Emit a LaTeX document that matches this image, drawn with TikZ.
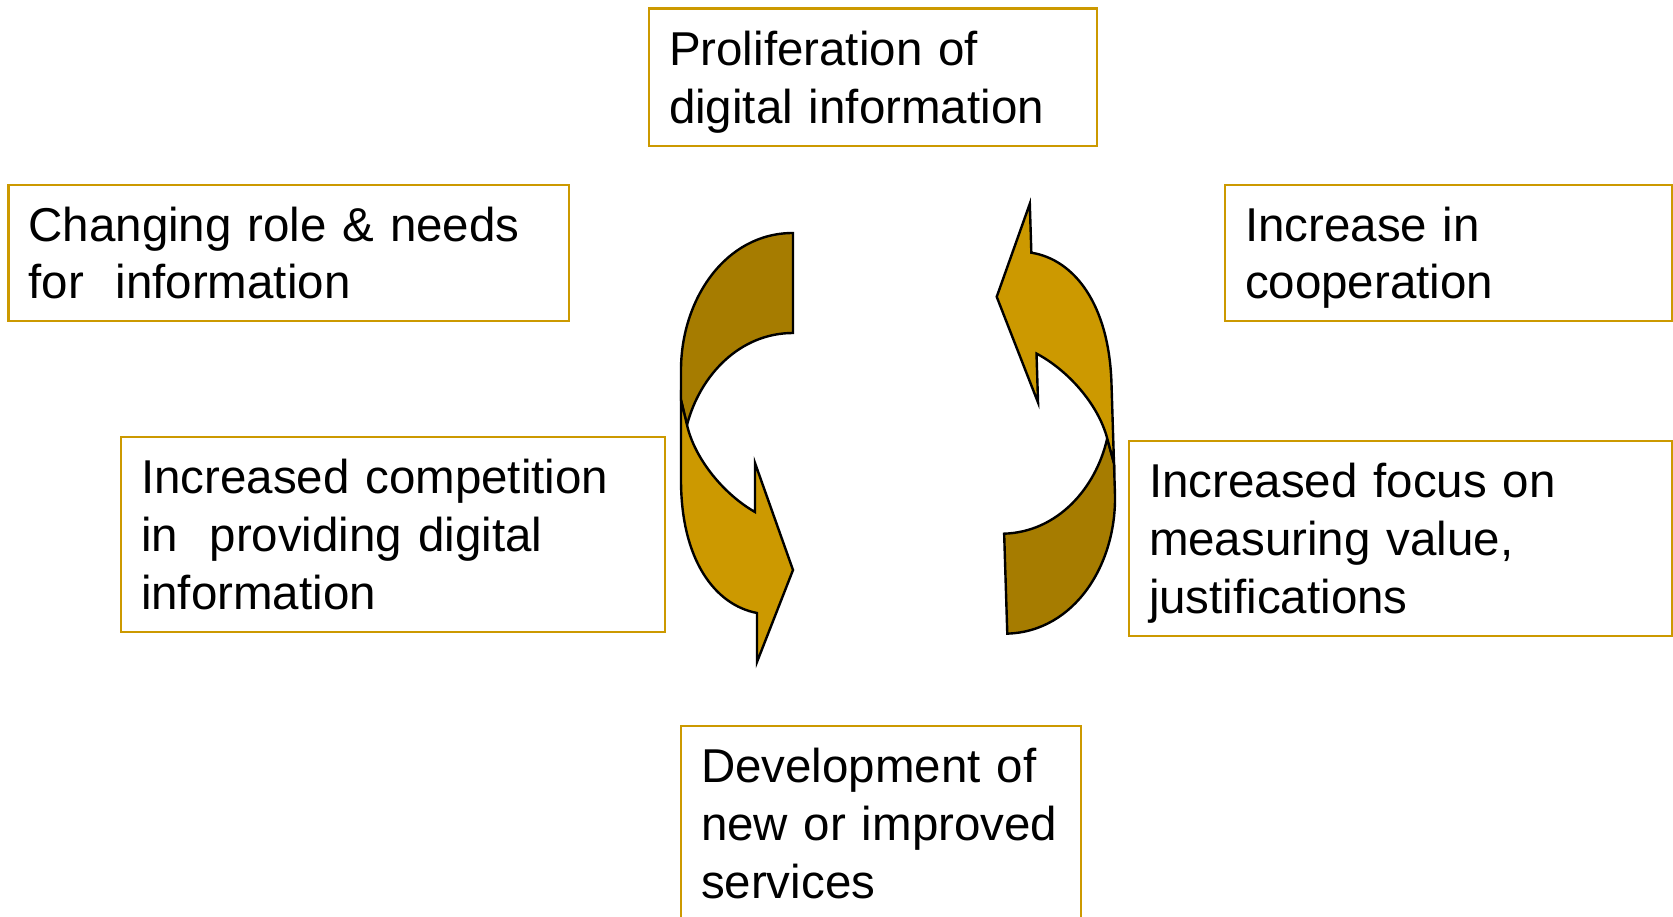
\documentclass[tikz,border=0pt]{standalone}
\usepackage{fontspec}
\setmainfont{Liberation Sans}
\usepackage{tikz}
\definecolor{lightgold}{RGB}{204,153,0}
\definecolor{darkgold}{RGB}{166,124,0}
\newcommand{\boxstrut}{\rule[-0.234em]{0pt}{1.184em}}
\tikzstyle{infobox} = [draw=lightgold, line width=2.5pt, inner xsep=20pt, inner ysep=4pt, align=left, font=\fontsize{47.5}{57.6}\selectfont]
\tikzstyle{arrowpart} = [draw=black, line width=2.4pt]

% one half of the cycle, the right half is this one turned round
\newcommand{\halfcycle}{%
	% back of the ribbon
	\draw[arrowpart, fill=darkgold] 
	(793,233) .. controls (725,233) and (681,300) .. (681,370) 
	-- (681,400) -- (687,425) 
	.. controls (700,375) and (740,333) .. (793,333) -- cycle;
	% front with the head
	\draw[arrowpart, fill=lightgold] 
	(681,400) -- (681,480) .. controls (681,560) and (715,605) .. (757,613) 
	-- (757,662) -- (793,570) -- (755,463) -- (755,512) 
	.. controls (725,495) and (695,460) .. (687,425) -- cycle;
}

\begin{document}
\begin{tikzpicture}[x=1pt,y=-1pt]
	\useasboundingbox (0,0) rectangle (1673,917);
	\node[infobox, text width=408pt, minimum height=137.5pt] (prolif) at (873,77.25) 
	{\boxstrut Proliferation of\\\boxstrut digital information};
	\node[infobox, text width=520.5pt, minimum height=136pt] (roles) at (288.75,253) 
	{\boxstrut Changing role \& needs\\\boxstrut for\ \ information};
	\node[infobox, text width=407pt, minimum height=136pt] (coop) at (1448.5,253) 
	{\boxstrut Increase in\\\boxstrut cooperation};
	\node[infobox, text width=504pt, minimum height=195pt] (compet) at (393,534.5) 
	{\boxstrut Increased competition\\\boxstrut in\ \ providing digital\\\boxstrut information};
	\node[infobox, text width=503pt, minimum height=195pt] (focus) at (1400.5,538.5) 
	{\boxstrut Increased focus on\\\boxstrut measuring value,\\\boxstrut justifications};
	\node[infobox, text width=360pt, minimum height=195pt] (devel) at (881,823.5) 
	{\boxstrut Development of\\\boxstrut new or improved\\\boxstrut services};
	% the two curved arrows
	\halfcycle
	\begin{scope}[rotate around={181.8:(897,435)}]
		\halfcycle
	\end{scope}
\end{tikzpicture}
\end{document}
